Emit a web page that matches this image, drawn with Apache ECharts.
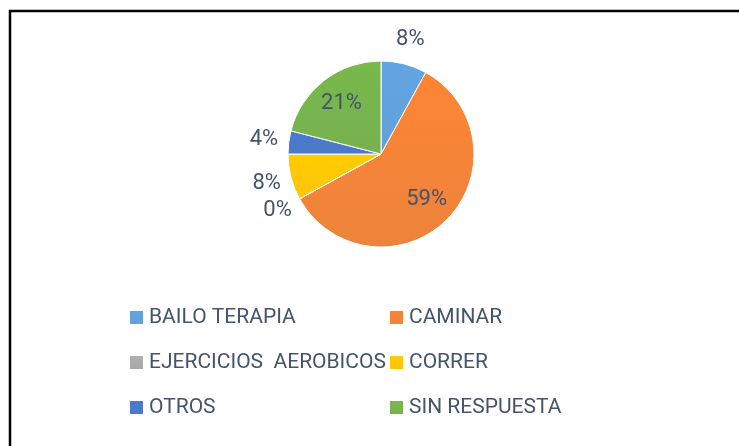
<!DOCTYPE html>
<html>
<head>
<meta charset="utf-8">
<script src="https://cdn.jsdelivr.net/npm/echarts@6/dist/echarts.min.js"></script>
<style>
  html, body { margin: 0; padding: 0; background: #fff; }
  #chart { width: 739px; height: 446px; }
</style>
</head>
<body>
<div id="chart"></div>
<script>
// datos de la encuesta
var categories = ['BAILO TERAPIA', 'CAMINAR', 'EJERCICIOS  AEROBICOS', 'CORRER', 'OTROS', 'SIN RESPUESTA'];
var values = [8, 59, 0, 8, 4, 21];
var colors = ['#5B9BD5', '#ED7D31', '#A5A5A5', '#FFC000', '#4472C4', '#70AD47'];
// etiquetas dentro del pastel
var insideNames = ['CAMINAR', 'SIN RESPUESTA'];

var textColor = '#44546A';
var fontFamily = 'Roboto, Liberation Sans, Arial, sans-serif';

function grad(c) {
  return new echarts.graphic.LinearGradient(0, 0, 0, 1, [
    { offset: 0, color: echarts.color.lift(c, -0.07) },
    { offset: 1, color: echarts.color.lift(c, 0.05) }
  ]);
}

var pieData = categories.map(function (name, i) {
  return { name: name, value: values[i], itemStyle: { color: grad(colors[i]) } };
});
var labelData = categories.map(function (name, i) {
  return { name: name, value: values[i] };
});

var center = [381, 154];
var labelStyle = {
  fontSize: 22,
  color: textColor,
  fontFamily: fontFamily
};
var legendText = { fontSize: 21, color: textColor, fontFamily: fontFamily };

var chart = echarts.init(document.getElementById('chart'));
var option = {
  animation: false,
  graphic: [{
    type: 'rect',
    shape: { x: 10, y: 11, width: 900, height: 600 },
    style: { fill: 'none', stroke: '#000', lineWidth: 2.5 },
    z: 100
  }],
  legend: [{
    left: 123,
    top: 302,
    orient: 'vertical',
    icon: 'rect',
    itemWidth: 15,
    itemHeight: 15,
    itemGap: 24,
    selectedMode: false,
    data: [categories[0], categories[2], categories[4]],
    textStyle: legendText
  }, {
    left: 383,
    top: 302,
    orient: 'vertical',
    icon: 'rect',
    itemWidth: 15,
    itemHeight: 15,
    itemGap: 24,
    selectedMode: false,
    data: [categories[1], categories[3], categories[5]],
    textStyle: legendText
  }],
  series: [{
    // pastel principal
    type: 'pie',
    center: center,
    radius: [0, 93],
    startAngle: 90,
    clockwise: true,
    avoidLabelOverlap: false,
    stillShowZeroSum: true,
    label: { show: false },
    labelLine: { show: false },
    itemStyle: { borderColor: '#fff', borderWidth: 1 },
    emphasis: { scale: false },
    data: pieData
  }, {
    // etiquetas internas
    type: 'pie',
    center: center,
    radius: [30, 93],
    startAngle: 90,
    silent: true,
    legendHoverLink: false,
    avoidLabelOverlap: false,
    itemStyle: { color: 'rgba(0,0,0,0)' },
    label: Object.assign({
      position: 'inside',
      formatter: function (p) {
        return insideNames.indexOf(p.name) >= 0 ? p.value + '%' : '';
      }
    }, labelStyle),
    labelLine: { show: false },
    data: labelData
  }, {
    // etiquetas externas
    type: 'pie',
    center: center,
    radius: [100, 130],
    startAngle: 90,
    silent: true,
    legendHoverLink: false,
    avoidLabelOverlap: false,
    itemStyle: { color: 'rgba(0,0,0,0)' },
    label: Object.assign({
      position: 'inside',
      formatter: function (p) {
        return insideNames.indexOf(p.name) >= 0 ? '' : p.value + '%';
      }
    }, labelStyle),
    labelLine: { show: false },
    data: labelData
  }]
};
chart.setOption(option);
</script>
</body>
</html>
